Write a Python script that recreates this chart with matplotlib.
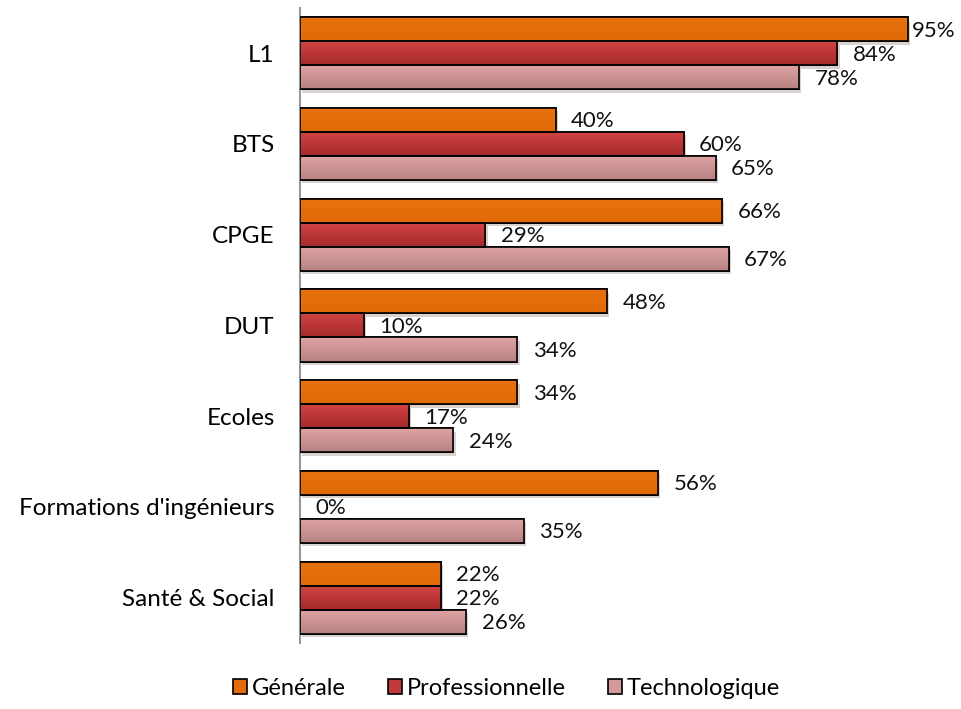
import numpy as np
import matplotlib
matplotlib.use("Agg")
from matplotlib import pyplot as plt
from matplotlib.patches import Patch
from matplotlib.colors import LinearSegmentedColormap
import matplotlib.patheffects as pe

plt.rcParams['font.family'] = ['Lato', 'DejaVu Sans']

# Data
categories = ["L1", "BTS", "CPGE", "DUT", "Ecoles",
              "Formations d'ingénieurs", "Santé & Social"]
generale = [95, 40, 66, 48, 34, 56, 22]
professionnelle = [84, 60, 29, 10, 17, 0, 22]
technologique = [78, 65, 67, 34, 24, 35, 26]
series_names = ["Générale", "Professionnelle", "Technologique"]

series = [generale, professionnelle, technologique]
# (top colour, bottom colour) for each series gradient
grads = [("#E8720E", "#E06A08"), ("#D44444", "#A52A2A"), ("#E0A4A4", "#B88282")]
legend_cols = ["#E46C0A", "#C0393B", "#D49A9A"]

fig = plt.figure(figsize=(9.61, 7.09), dpi=100)
ax = fig.add_axes([0.312, 0.093, 0.666, 0.896])

y = np.arange(len(categories))
h = 0.265
offsets = [-h, 0, h]

for vals, (c_top, c_bot), off in zip(series, grads, offsets):
    cmap = LinearSegmentedColormap.from_list("g", [c_top, c_bot])
    for yi, v in zip(y, vals):
        yc = yi + off
        if v > 0:
            bar = ax.barh(yc, v, height=h, color=c_bot, edgecolor="black",
                          linewidth=1.2, zorder=2)[0]
            bar.set_path_effects([pe.SimplePatchShadow(offset=(1.5, -2.5), alpha=0.2),
                                  pe.Normal()])
            im = ax.imshow(np.linspace(0, 1, 50).reshape(-1, 1), cmap=cmap,
                           extent=[0, v, yc + h / 2, yc - h / 2],
                           aspect="auto", zorder=2.5, interpolation="bicubic")
            im.set_clip_path(bar)
            ax.barh(yc, v, height=h, color="none", edgecolor="black",
                    linewidth=1.2, zorder=3)
        dx = 3 if v >= 90 else 11
        ax.annotate(f"{v}%", xy=(v, yc), xytext=(dx, -1), textcoords="offset points",
                    va="center", ha="left", fontsize=16, color="#111111")

ax.set_xlim(0, 100)
ax.set_ylim(len(categories) - 0.5, -0.5)
ax.set_yticks(y)
ax.set_yticklabels(categories, fontsize=17.5)
ax.tick_params(axis="y", length=0, pad=18)
ax.set_xticks([])
for s in ["top", "right", "bottom"]:
    ax.spines[s].set_visible(False)
ax.spines["left"].set_color("#999999")
ax.spines["left"].set_linewidth(1.5)

handles = [Patch(facecolor=c, edgecolor="black", linewidth=1.2) for c in legend_cols]
fig.legend(handles, series_names, loc="lower center", bbox_to_anchor=(0.527, -0.016),
           ncol=3, frameon=False, fontsize=17, handlelength=0.58, handleheight=0.58,
           handletextpad=0.2, columnspacing=1.8)

fig.savefig("out.png", dpi=100)
